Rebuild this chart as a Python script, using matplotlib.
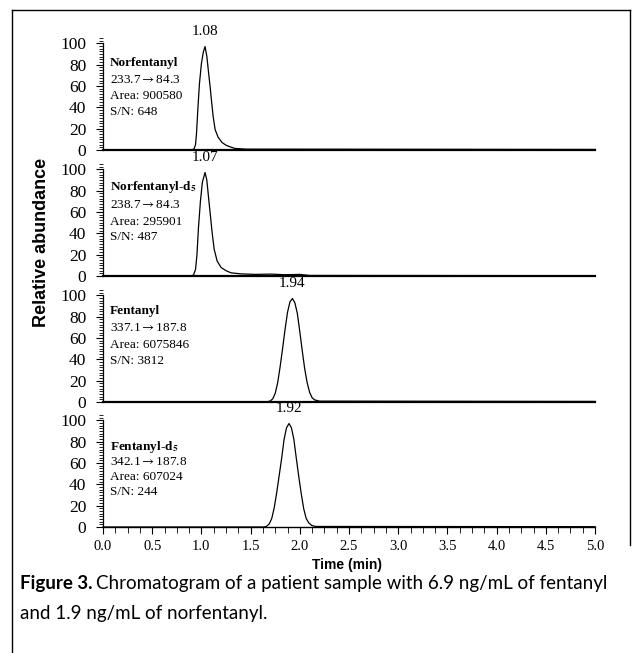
"""
Chromatogram of a patient sample (fentanyl / norfentanyl), four stacked MRM traces.
"""

import matplotlib
matplotlib.use("Agg")
import matplotlib.pyplot as plt
from matplotlib.lines import Line2D
from matplotlib.ticker import MultipleLocator

plt.rcParams["mathtext.fontset"] = "stix"

# ── Trace data (time in min, relative abundance in %) ──
norfentanyl_t = [0.00, 0.90, 0.925, 0.94, 0.95, 0.965, 0.98, 1.00, 1.02, 1.037,
                 1.055, 1.07, 1.09, 1.105, 1.12, 1.14, 1.17, 1.21, 1.25, 1.29,
                 1.34, 1.45, 5.00]
norfentanyl_y = [0, 0, 1, 5, 15, 40, 62, 81, 92, 97,
                 88, 75, 58, 44, 31, 19, 12, 7, 4.5, 3,
                 1.5, 0.8, 0.5]

norfentanyl_d5_t = [0.00, 0.90, 0.92, 0.94, 0.955, 0.97, 0.99, 1.01, 1.037, 1.055,
                    1.07, 1.09, 1.11, 1.13, 1.16, 1.20, 1.25, 1.30, 1.40, 1.55,
                    1.70, 1.85, 2.00, 2.10, 5.00]
norfentanyl_d5_y = [0, 0, 1, 6, 20, 45, 70, 88, 97, 90,
                    76, 58, 40, 25, 14, 8, 5, 3, 2, 1.5,
                    1.8, 1.2, 1.5, 0.5, 0.3]

fentanyl_t = [0.00, 1.66, 1.70, 1.725, 1.75, 1.775, 1.80, 1.825, 1.85, 1.875,
              1.90, 1.925, 1.95, 1.975, 2.00, 2.025, 2.05, 2.075, 2.10, 2.125,
              2.15, 2.20, 5.00]
fentanyl_y = [0, 0, 1, 3, 8, 18, 33, 50, 68, 84,
              94, 97, 93, 83, 66, 48, 31, 18, 9, 4,
              2, 0.8, 0.5]

fentanyl_d5_t = [0.00, 1.63, 1.66, 1.69, 1.715, 1.74, 1.765, 1.79, 1.815, 1.84,
                 1.865, 1.89, 1.915, 1.94, 1.965, 1.99, 2.015, 2.04, 2.065, 2.09,
                 2.12, 2.16, 5.00]
fentanyl_d5_y = [0, 0, 0.5, 3, 8, 18, 32, 48, 64, 82,
                 93, 97, 93, 82, 64, 47, 31, 17, 8, 4,
                 1.5, 0.5, 0.3]

compounds = [r"Norfentanyl", r"Norfentanyl-d$_\mathbf{5}$",
             r"Fentanyl", r"Fentanyl-d$_\mathbf{5}$"]
transitions = [r"233.7$\rightarrow$84.3", r"238.7$\rightarrow$84.3",
               r"337.1$\rightarrow$187.8", r"342.1$\rightarrow$187.8"]
areas = ["900580", "295901", "6075846", "607024"]
sn_ratios = ["648", "487", "3812", "244"]
peak_rt = ["1.08", "1.07", "1.94", "1.92"]
peak_pos = [1.037, 1.037, 1.925, 1.89]

traces = [(norfentanyl_t, norfentanyl_y), (norfentanyl_d5_t, norfentanyl_d5_y),
          (fentanyl_t, fentanyl_y), (fentanyl_d5_t, fentanyl_d5_y)]

SERIF = ["Liberation Serif", "DejaVu Serif"]
SANS = ["Liberation Sans", "DejaVu Sans"]

W, H = 636, 653
fig = plt.figure(figsize=(W / 100, H / 100), dpi=100)

# pixel rows of the zero line of each panel
zero_rows = [150, 276, 402, 527]
label_rows = [[82, 66, 51, 36], [83, 67, 51, 37], [85, 69, 53, 38], [75, 61, 47, 33]]
x0, x1 = 103, 595
ax_h = 112

for i, ((t, y), z) in enumerate(zip(traces, zero_rows)):
    ax = fig.add_axes([x0 / W, 1 - z / H, (x1 - x0) / W, ax_h / H])
    ax.plot(t, y, color="black", lw=0.9, clip_on=False)
    ax.set_xlim(0, 5)
    ax.set_ylim(0, 105)
    for s in ("top", "right"):
        ax.spines[s].set_visible(False)
    ax.spines["left"].set_bounds(0, 100)
    ax.spines["left"].set_linewidth(0.9)
    ax.spines["bottom"].set_linewidth(1.6 if i < 3 else 1.0)

    ax.yaxis.set_major_locator(MultipleLocator(20))
    ax.yaxis.set_minor_locator(MultipleLocator(2.5))
    ax.tick_params(axis="y", which="major", direction="out", length=5, width=0.8,
                   pad=7, labelsize=12.5)
    ax.tick_params(axis="y", which="minor", direction="out", length=3, width=0.6)
    for lab in ax.get_yticklabels():
        lab.set_family(SERIF)

    if i < 3:
        ax.set_xticks([])
    else:
        ax.xaxis.set_major_locator(MultipleLocator(0.5))
        ax.xaxis.set_minor_locator(MultipleLocator(0.125))
        ax.tick_params(axis="x", which="major", direction="out", length=5, width=0.8,
                       pad=4, labelsize=10.5)
        ax.tick_params(axis="x", which="minor", direction="out", length=4, width=0.6)
        ax.xaxis.set_major_formatter(plt.FuncFormatter(lambda v, p: f"{v:.1f}"))
        for lab in ax.get_xticklabels():
            lab.set_family(SERIF)

    # retention time label
    ax.text(peak_pos[i], 111, peak_rt[i], ha="center", va="center",
            fontsize=11, family=SERIF, clip_on=False)

    # compound annotation
    rows = label_rows[i]
    ax.text(0.07, rows[0], compounds[i], ha="left", va="center", fontsize=9.5,
            fontweight="bold", family=SERIF)
    ax.text(0.07, rows[1], transitions[i], ha="left", va="center", fontsize=9.5,
            family=SERIF)
    ax.text(0.07, rows[2], f"Area: {areas[i]}", ha="left", va="center",
            fontsize=9.5, family=SERIF)
    ax.text(0.07, rows[3], f"S/N: {sn_ratios[i]}", ha="left", va="center",
            fontsize=9.5, family=SERIF)

fig.text(42 / W, 1 - 242 / H, "Relative abundance", rotation=90, ha="center",
         va="center", fontsize=13, fontweight="bold", family=SANS)
fig.text(347 / W, 1 - 565 / H, "Time (min)", ha="center", va="center",
         fontsize=10, fontweight="bold", family=SANS)

# caption
cap = ["Lato", "DejaVu Sans"]
cap_size = 13.5
t1 = fig.text(20 / W, 1 - 583 / H, "Figure 3.", ha="left", va="center",
              fontsize=cap_size, fontweight="bold", family=cap)
fig.canvas.draw()
bb = t1.get_window_extent()
fig.text((bb.x1 + 4) / W, 1 - 583 / H,
         "Chromatogram of a patient sample with 6.9 ng/mL of fentanyl",
         ha="left", va="center", fontsize=cap_size, family=cap)
fig.text(20 / W, 1 - 613 / H, "and 1.9 ng/mL of norfentanyl.", ha="left",
         va="center", fontsize=cap_size, family=cap)

# frame around the figure
fig.add_artist(Line2D([12 / W, 630 / W], [1 - 10 / H, 1 - 10 / H],
                      color="black", lw=1.0))
fig.add_artist(Line2D([12 / W, 12 / W], [0, 1 - 10 / H], color="black", lw=1.0))
fig.add_artist(Line2D([630 / W, 630 / W], [1 - 545 / H, 1 - 10 / H],
                      color="black", lw=1.0))

fig.savefig("out.png", dpi=100)
